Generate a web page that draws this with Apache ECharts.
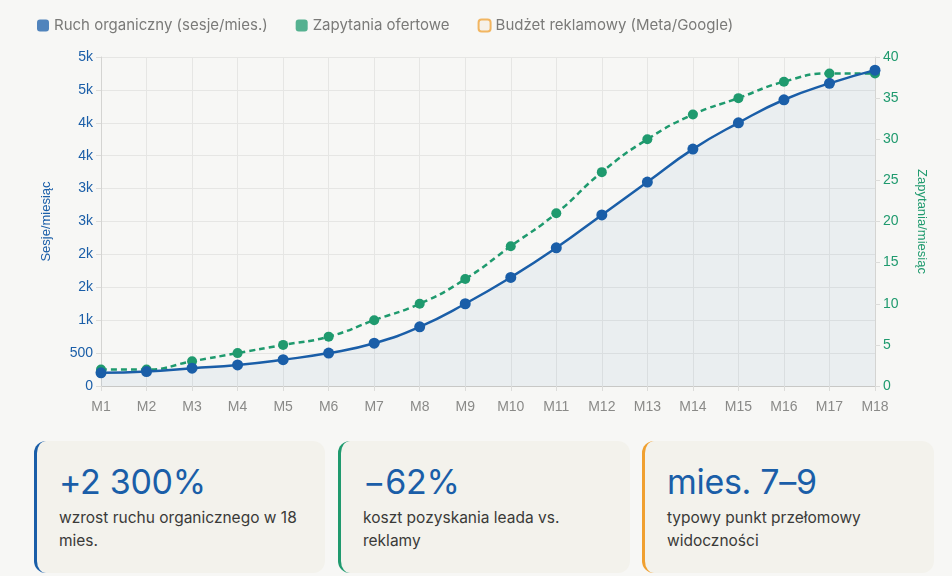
<!DOCTYPE html>
<html>
<head>
<meta charset="utf-8">
<script src="https://cdn.jsdelivr.net/npm/echarts@6/dist/echarts.min.js"></script>
<style>
html,body{margin:0;padding:0;background:#f7f7f5;}
#chart{position:absolute;left:0;top:0;width:952px;height:430px;}
.cards{position:absolute;left:34px;top:441px;width:900px;height:135px;}
.card{position:absolute;top:0;width:268px;height:132px;background:#f3f2ec;border-left:3px solid #1a5ea8;border-radius:12px;padding:0 0 0 22px;box-sizing:border-box;font-family:Inter,"Noto Sans",sans-serif;}
.card .big{margin-top:22px;font-size:34px;line-height:38px;color:#1a5ea8;letter-spacing:-0.3px;}
.card .desc{margin-top:5px;font-size:15.5px;line-height:23px;color:#3a3a38;}
</style>
</head>
<body>
<div id="chart"></div>
<div class="cards">
  <div class="card" style="left:0;width:291px;border-left-color:#1a5ea8;"><div class="big">+2 300%</div><div class="desc">wzrost ruchu organicznego w 18<br>mies.</div></div>
  <div class="card" style="left:304px;width:292px;border-left-color:#1f9a6e;"><div class="big">−62%</div><div class="desc">koszt pozyskania leada vs.<br>reklamy</div></div>
  <div class="card" style="left:608px;width:292px;border-left-color:#f0a030;"><div class="big">mies. 7–9</div><div class="desc">typowy punkt przełomowy<br>widoczności</div></div>
</div>
<script>
//miesiące
var months=['M1','M2','M3','M4','M5','M6','M7','M8','M9','M10','M11','M12','M13','M14','M15','M16','M17','M18'];
//ruch organiczny (sesje/mies.)
var organic=[200,220,270,320,400,500,650,900,1250,1650,2100,2600,3100,3600,4000,4350,4600,4800];
//zapytania ofertowe
var leads=[2,2,3,4,5,6,8,10,13,17,21,26,30,33,35,37,38,38];
//budżet reklamowy - brak danych na wykresie
var adBudget=[];

var blue='#1a5ea8',green='#1f9a6e',orange='#f0a030';
var chart=echarts.init(document.getElementById('chart'));
function kFormat(v){
    if(v>=1000){
        return (v/1000).toFixed(0)+'k';
    }
    return v;
}
var option={
    backgroundColor:'transparent',
    textStyle:{fontFamily:'Liberation Sans, Arial, sans-serif'},
    legend:{
        left:32,
        top:13,
        itemWidth:12,
        itemHeight:12,
        itemGap:28,
        icon:'roundRect',
        itemStyle:{opacity:0.75},
        textStyle:{color:'#7a7a78',fontSize:15,fontFamily:'Inter, Noto Sans, sans-serif'},
        data:['Ruch organiczny (sesje/mies.)','Zapytania ofertowe','Budżet reklamowy (Meta/Google)']
    },
    grid:{left:101,right:77,top:57,bottom:44},
    xAxis:{
        type:'category',
        boundaryGap:false,
        data:months,
        axisLine:{lineStyle:{color:'#c8c8c6'}},
        axisTick:{show:true,lineStyle:{color:'#dcdcda'}},
        axisLabel:{color:'#8a8a88',fontSize:14,margin:14},
        splitLine:{show:true,lineStyle:{color:'#e6e6e4'}}
    },
    yAxis:[{
        type:'value',
        min:0,
        max:5000,
        interval:500,
        name:'Sesje/miesiąc',
        nameLocation:'middle',
        nameGap:48,
        nameTextStyle:{color:blue,fontSize:13},
        axisLine:{show:true,lineStyle:{color:'#d4d4d2'}},
        axisTick:{show:true,lineStyle:{color:'#dcdcda'}},
        axisLabel:{color:blue,fontSize:14,formatter:kFormat},
        splitLine:{lineStyle:{color:'#e6e6e4'}}
    },{
        type:'value',
        min:0,
        max:40,
        interval:5,
        name:'Zapytania/miesiąc',
        nameLocation:'middle',
        nameGap:40,
        nameRotate:-90,
        nameTextStyle:{color:green,fontSize:13},
        axisLine:{show:true,lineStyle:{color:'#d4d4d2'}},
        axisTick:{show:true,lineStyle:{color:'#dcdcda'}},
        axisLabel:{color:green,fontSize:14},
        splitLine:{show:false}
    }],
    series:[{
        name:'Ruch organiczny (sesje/mies.)',
        type:'line',
        smooth:true,
        yAxisIndex:0,
        symbol:'circle',
        symbolSize:11,
        z:3,
        itemStyle:{color:blue},
        lineStyle:{color:blue,width:2.5},
        areaStyle:{color:'rgba(26,94,168,0.08)'},
        data:organic
    },{
        name:'Zapytania ofertowe',
        type:'line',
        smooth:true,
        yAxisIndex:1,
        symbol:'circle',
        symbolSize:10,
        z:2,
        itemStyle:{color:green},
        lineStyle:{color:green,width:2.5,type:[6,4]},
        data:leads
    },{
        name:'Budżet reklamowy (Meta/Google)',
        type:'bar',
        yAxisIndex:0,
        itemStyle:{color:'rgba(240,160,48,0.08)',borderColor:orange,borderWidth:1},
        data:adBudget
    }]
};
chart.setOption(option);
</script>
</body>
</html>
